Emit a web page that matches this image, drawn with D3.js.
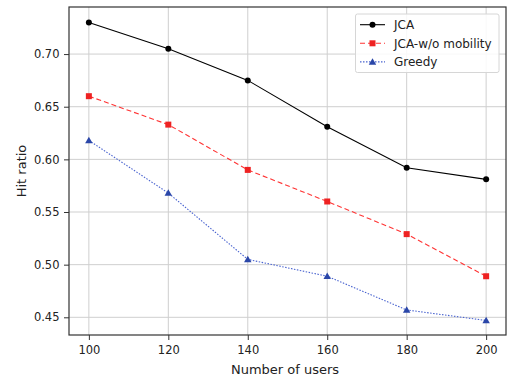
<!DOCTYPE html>
<html>
<head>
<meta charset="utf-8">
<script src="https://cdn.jsdelivr.net/npm/d3@7"></script>
<style>
  body { margin: 0; background: #fff; }
  svg { font-family: "DejaVu Sans", sans-serif; }
</style>
</head>
<body>
<svg id="chart" width="509" height="377"></svg>
<script>
// === DATA ===
const users = [100, 120, 140, 160, 180, 200];
const jca = [0.730, 0.705, 0.675, 0.631, 0.592, 0.581];
const jcaNoMobility = [0.660, 0.633, 0.590, 0.560, 0.529, 0.489];
const greedy = [0.618, 0.568, 0.505, 0.489, 0.457, 0.447];
const xTicks = [100, 120, 140, 160, 180, 200];
const yTicks = [0.45, 0.50, 0.55, 0.60, 0.65, 0.70];

const series = [
  { name: "JCA", values: jca, color: "#000000", lineColor: "#000000", dash: null, marker: "circle" },
  { name: "JCA-w/o mobility", values: jcaNoMobility, color: "#ee2222", lineColor: "#ff3333", dash: "5,3", marker: "square" },
  { name: "Greedy", values: greedy, color: "#2a46a8", lineColor: "#4a64d0", dash: "1.5,1.5", marker: "triangle" }
];

// === LAYOUT ===
const plotL = 69, plotT = 7, plotR = 506, plotB = 335;
const svg = d3.select("#chart");

const x = d3.scaleLinear().domain([95, 205]).range([plotL, plotR]);
const y = d3.scaleLinear().domain([0.4332, 0.7447]).range([plotB, plotT]);

// grid
svg.append("g").selectAll("line")
  .data(xTicks).join("line")
  .attr("x1", d => x(d)).attr("x2", d => x(d))
  .attr("y1", plotT).attr("y2", plotB)
  .attr("stroke", "#cfcfcf").attr("stroke-width", 1);
svg.append("g").selectAll("line")
  .data(yTicks).join("line")
  .attr("x1", plotL).attr("x2", plotR)
  .attr("y1", d => y(d)).attr("y2", d => y(d))
  .attr("stroke", "#cfcfcf").attr("stroke-width", 1);

// axes
const xAxis = svg.append("g").attr("transform", `translate(0,${plotB})`)
  .call(d3.axisBottom(x).tickValues(xTicks).tickFormat(d3.format("d")).tickSize(5).tickPadding(6));
const yAxis = svg.append("g").attr("transform", `translate(${plotL},0)`)
  .call(d3.axisLeft(y).tickValues(yTicks).tickFormat(d3.format(".2f")).tickSize(5).tickPadding(4.5));
[xAxis, yAxis].forEach(g => {
  g.select(".domain").remove();
  g.selectAll("line").attr("stroke", "#333");
  g.selectAll("text").attr("font-size", 11.5).attr("fill", "#222")
    .attr("font-family", "DejaVu Sans, sans-serif");
});

// frame
svg.append("rect")
  .attr("x", plotL).attr("y", plotT)
  .attr("width", plotR - plotL).attr("height", plotB - plotT)
  .attr("fill", "none").attr("stroke", "#333").attr("stroke-width", 1.2);

// axis labels
svg.append("text").text("Number of users")
  .attr("x", 285).attr("y", 374)
  .attr("text-anchor", "middle").attr("font-size", 13).attr("fill", "#222");
svg.append("text").text("Hit ratio")
  .attr("transform", `translate(25.5,${(plotT + plotB) / 2}) rotate(-90)`)
  .attr("text-anchor", "middle").attr("font-size", 13).attr("fill", "#222");

// markers
function drawMarker(g, type, cx, cy, color) {
  if (type === "circle") {
    g.append("circle").attr("cx", cx).attr("cy", cy).attr("r", 3).attr("fill", color);
  } else if (type === "square") {
    g.append("rect").attr("x", cx - 3).attr("y", cy - 3).attr("width", 6).attr("height", 6).attr("fill", color);
  } else {
    const s = d3.symbol().type(d3.symbolTriangle).size(24);
    g.append("path").attr("d", s()).attr("transform", `translate(${cx},${cy + 0.6})`).attr("fill", color);
  }
}

// lines
const line = d3.line().x((d, i) => x(users[i])).y(d => y(d));
series.forEach(s => {
  const g = svg.append("g");
  g.append("path").datum(s.values)
    .attr("d", line)
    .attr("fill", "none")
    .attr("stroke", s.lineColor)
    .attr("stroke-width", 1.1)
    .attr("stroke-dasharray", s.dash);
  s.values.forEach((v, i) => drawMarker(g, s.marker, x(users[i]), y(v), s.color));
});

// legend
const lg = svg.append("g");
lg.append("rect")
  .attr("x", 355.5).attr("y", 14).attr("width", 143.5).attr("height", 58.5).attr("rx", 2)
  .attr("fill", "#fff").attr("fill-opacity", 0.85).attr("stroke", "#d6d6d6");
series.forEach((s, i) => {
  const ly = 24.7 + i * 18.6;
  lg.append("line")
    .attr("x1", 360).attr("x2", 385).attr("y1", ly).attr("y2", ly)
    .attr("stroke", s.lineColor).attr("stroke-width", 1.1)
    .attr("stroke-dasharray", s.dash);
  drawMarker(lg, s.marker, 372.5, ly, s.color);
  lg.append("text").text(s.name)
    .attr("x", 394).attr("y", ly + 4.4)
    .attr("font-size", 12).attr("fill", "#222");
});
</script>
</body>
</html>
